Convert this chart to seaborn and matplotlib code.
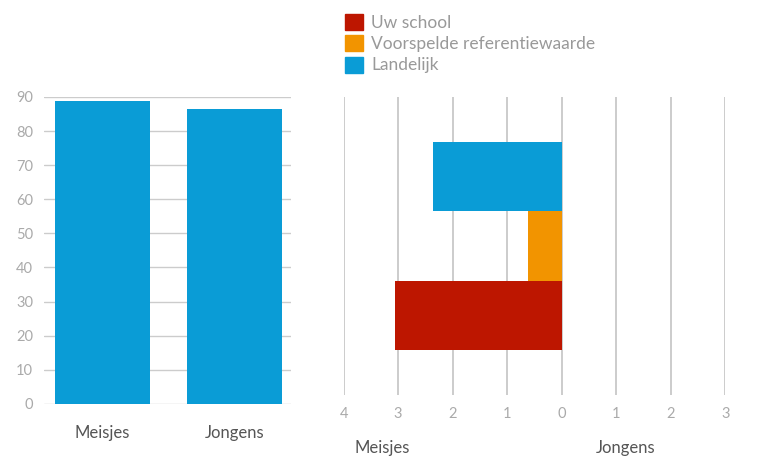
import pandas as pd
import matplotlib.pyplot as plt
import seaborn as sns

# Data
geslachten = ['Meisjes', 'Jongens']
percentages = [88.8, 86.4]

reeksen = ['Uw school', 'Voorspelde referentiewaarde', 'Landelijk']
kleuren = ['#BD1600', '#F29400', '#0A9CD6']
meisjes_waarden = [3.05, 0.62, 2.37]

y_ticks = [0, 10, 20, 30, 40, 50, 60, 70, 80, 90]
x_ticks = [-4, -3, -2, -1, 0, 1, 2, 3]

sns.set_style('white')
plt.rcParams['font.family'] = ['Lato', 'DejaVu Sans']

fig = plt.figure(figsize=(7.74, 4.57), dpi=100)

# Staafdiagram links
ax1 = fig.add_axes([0.057, 0.116, 0.319, 0.672])
sns.barplot(x=geslachten, y=percentages, color='#0A9CD6', saturation=1,
            width=0.72, linewidth=0, ax=ax1)
ax1.set_ylim(0, 90)
ax1.set_xlim(-0.44, 1.43)
ax1.set_yticks(y_ticks)
ax1.yaxis.grid(True, color='#cccccc', linewidth=1)
ax1.set_axisbelow(True)
for s in ax1.spines.values():
    s.set_visible(False)
ax1.tick_params(axis='y', length=0, labelsize=10.5, labelcolor='#aaaaaa', pad=8)
ax1.tick_params(axis='x', length=0, labelsize=12, labelcolor='#555555', pad=15)
ax1.set_xlabel('')
ax1.set_ylabel('')

# Horizontale staven rechts
df = pd.DataFrame({
    'groep': ['Meisjes'] * len(reeksen),
    'reeks': reeksen,
    'waarde': [-v for v in meisjes_waarden],
})
ax2 = fig.add_axes([0.444, 0.136, 0.493, 0.652])
sns.barplot(data=df, x='waarde', y='groep', hue='reeks', orient='h',
            hue_order=['Landelijk', 'Voorspelde referentiewaarde', 'Uw school'],
            palette=dict(zip(reeksen, kleuren)), saturation=1, width=0.7,
            linewidth=0, legend=False, ax=ax2)
ax2.set_xlim(-4, 3)
ax2.set_ylim(0.5, -0.5)
ax2.set_xticks(x_ticks)
ax2.set_xticklabels([str(abs(t)) for t in x_ticks])
ax2.set_yticks([])
ax2.xaxis.grid(True, color='#c8c8c8', linewidth=1.3)
ax2.set_axisbelow(True)
for s in ax2.spines.values():
    s.set_visible(False)
ax2.tick_params(axis='x', length=0, labelsize=10.5, labelcolor='#aaaaaa', pad=9)
ax2.set_xlabel('')
ax2.set_ylabel('')

fig.text(382 / 774, 1 - 440 / 457, 'Meisjes', ha='center', va='top',
         fontsize=12, color='#555555')
fig.text(626 / 774, 1 - 440 / 457, 'Jongens', ha='center', va='top',
         fontsize=12, color='#555555')

# Legenda
handles = [plt.Rectangle((0, 0), 1, 1, color=c) for c in kleuren]
fig.legend(handles, reeksen, loc='upper left', bbox_to_anchor=(0.428, 1.0),
           frameon=False, fontsize=12.5, labelcolor='#999999',
           handlelength=1.0, handleheight=1.05, handletextpad=0.5,
           labelspacing=0.25, borderaxespad=0.4)

fig.savefig('out.png', dpi=100)
